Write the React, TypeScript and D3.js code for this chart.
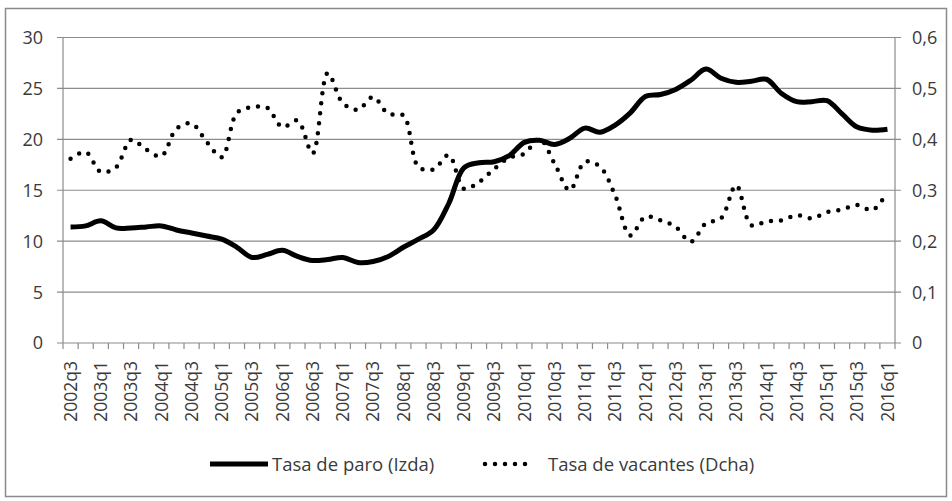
import React from 'react';
import * as d3 from 'd3';

// quarters on the category axis
const quarters = [
  '2002q3', '2002q4',
  '2003q1', '2003q2', '2003q3', '2003q4',
  '2004q1', '2004q2', '2004q3', '2004q4',
  '2005q1', '2005q2', '2005q3', '2005q4',
  '2006q1', '2006q2', '2006q3', '2006q4',
  '2007q1', '2007q2', '2007q3', '2007q4',
  '2008q1', '2008q2', '2008q3', '2008q4',
  '2009q1', '2009q2', '2009q3', '2009q4',
  '2010q1', '2010q2', '2010q3', '2010q4',
  '2011q1', '2011q2', '2011q3', '2011q4',
  '2012q1', '2012q2', '2012q3', '2012q4',
  '2013q1', '2013q2', '2013q3', '2013q4',
  '2014q1', '2014q2', '2014q3', '2014q4',
  '2015q1', '2015q2', '2015q3', '2015q4',
  '2016q1',
];

// Tasa de paro (left axis, %)
const paro = [
  11.4, 11.5,
  12.0, 11.3, 11.3, 11.4,
  11.5, 11.1, 10.8, 10.5,
  10.2, 9.4, 8.4, 8.7,
  9.1, 8.5, 8.1, 8.2,
  8.4, 7.9, 8.0, 8.5,
  9.4, 10.2, 11.1, 13.7,
  17.2, 17.7, 17.8, 18.4,
  19.7, 19.9, 19.5, 20.1,
  21.1, 20.7, 21.4, 22.6,
  24.2, 24.4, 24.9, 25.8,
  26.9, 26.0, 25.6, 25.7,
  25.9, 24.5, 23.7, 23.7,
  23.8, 22.5, 21.2, 20.9,
  21.0,
];

// Tasa de vacantes (right axis)
const vacantes = [
  0.362, 0.375,
  0.336, 0.345, 0.399, 0.380,
  0.367, 0.421, 0.431, 0.395,
  0.365, 0.452, 0.463, 0.462,
  0.424, 0.437, 0.372, 0.530,
  0.471, 0.458, 0.483, 0.450,
  0.447, 0.346, 0.341, 0.369,
  0.303, 0.316, 0.342, 0.364,
  0.372, 0.401, 0.352, 0.300,
  0.356, 0.346, 0.290, 0.211,
  0.248, 0.241, 0.228, 0.199,
  0.235, 0.245, 0.310, 0.231,
  0.239, 0.241, 0.251, 0.245,
  0.257, 0.262, 0.271, 0.261,
  0.297,
];

const leftTicks = [0, 5, 10, 15, 20, 25, 30];
const rightTicks = [0, 0.1, 0.2, 0.3, 0.4, 0.5, 0.6];

const legendLabels = ['Tasa de paro (Izda)', 'Tasa de vacantes (Dcha)'];

const W = 952;
const H = 501;
const grid = '#8c8c8c';
const textColor = '#3a3a3a';
const font = '"Open Sans", sans-serif';

export default function App() {
  const left = 63;
  const right = 895;
  const top = 37.5;
  const bottom = 343;

  const x = d3.scaleBand<string>().domain(quarters).range([left, right]).padding(0);
  const bw = x.bandwidth();
  const cx = (q: string) => (x(q) as number) + bw / 2;

  const yL = d3.scaleLinear().domain([0, 30]).range([bottom, top]);
  const yR = d3.scaleLinear().domain([0, 0.6]).range([bottom, top]);

  const paroLine = d3
    .line<number>()
    .x((d, i) => cx(quarters[i]))
    .y(d => yL(d))
    .curve(d3.curveCatmullRom.alpha(0.5));

  const vacLine = d3
    .line<number>()
    .x((d, i) => cx(quarters[i]))
    .y(d => yR(d))
    .curve(d3.curveCatmullRom.alpha(0.5));

  const fmtR = (v: number) => (v === 0 ? '0' : d3.format('.1f')(v).replace('.', ','));

  return (
    <svg width={W} height={H} style={{ position: 'absolute', left: 0, top: 0, background: '#fff' }}>
      <rect x={5.5} y={8.5} width={941} height={488} fill="#fff" stroke="#8a8a8a" strokeWidth={1.5} />

      {/* gridlines + small ticks outside both axes */}
      {leftTicks.map(t => (
        <line key={'g' + t} x1={left - 6} x2={right + 6} y1={yL(t)} y2={yL(t)} stroke={grid} strokeWidth={1.2} />
      ))}
      <line x1={left} x2={left} y1={top} y2={bottom} stroke={grid} strokeWidth={1.2} />
      <line x1={right} x2={right} y1={top} y2={bottom} stroke={grid} strokeWidth={1.2} />

      {/* category ticks */}
      {d3.range(quarters.length + 1).map(i => (
        <line key={'t' + i} x1={left + i * bw} x2={left + i * bw} y1={bottom} y2={bottom + 6} stroke={grid} strokeWidth={1.2} />
      ))}

      {leftTicks.map(t => (
        <text key={'l' + t} x={43} y={yL(t)} dy="0.36em" textAnchor="end" fontFamily={font} fontSize={18} fill={textColor}>
          {t}
        </text>
      ))}
      {rightTicks.map(t => (
        <text key={'r' + t} x={912} y={yR(t)} dy="0.36em" textAnchor="start" fontFamily={font} fontSize={18} fill={textColor}>
          {fmtR(t)}
        </text>
      ))}

      {quarters.map((q, i) =>
        i % 2 === 0 ? (
          <text
            key={q}
            transform={`translate(${cx(q)},361) rotate(-90)`}
            dy="0.36em"
            textAnchor="end"
            fontFamily={font}
            fontSize={17.5}
            fill={textColor}
          >
            {q}
          </text>
        ) : null
      )}

      <path d={vacLine(vacantes) || ''} fill="none" stroke="#000" strokeWidth={4.5} strokeLinecap="round" strokeDasharray="0 10" />
      <path d={paroLine(paro) || ''} fill="none" stroke="#000" strokeWidth={5} strokeLinejoin="round" />

      {/* legend */}
      <line x1={210} x2={268} y1={464} y2={464} stroke="#000" strokeWidth={5} />
      <text x={272} y={470.5} fontFamily={font} fontSize={18.5} fill={textColor}>
        {legendLabels[0]}
      </text>
      <line x1={485} x2={535} y1={464} y2={464} stroke="#000" strokeWidth={4.5} strokeLinecap="round" strokeDasharray="0 10" />
      <text x={548} y={470.5} fontFamily={font} fontSize={18.5} fill={textColor}>
        {legendLabels[1]}
      </text>
    </svg>
  );
}
